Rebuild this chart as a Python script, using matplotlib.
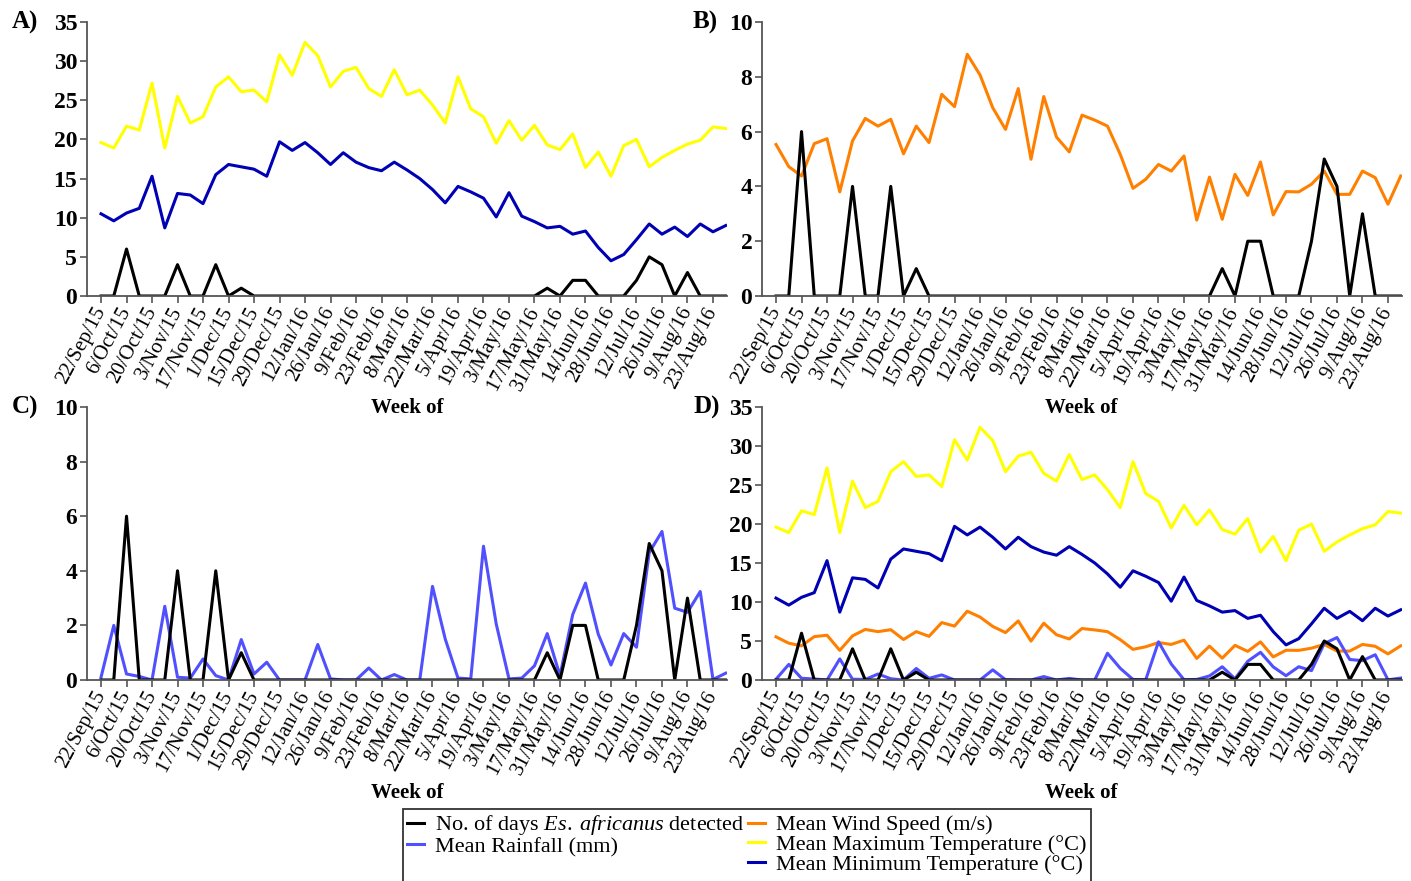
import matplotlib
matplotlib.use('Agg')
import matplotlib.pyplot as plt
from matplotlib.lines import Line2D

plt.rcParams['font.family'] = ['Liberation Serif', 'DejaVu Serif']
plt.rcParams['mathtext.fontset'] = 'custom'
plt.rcParams['mathtext.it'] = 'Liberation Serif:italic'
plt.rcParams['mathtext.rm'] = 'Liberation Serif'

# weekly data, 22/Sep/15 .. 30/Aug/16
days_detected = [0, 0, 6, 0, 0, 0, 4, 0, 0, 4, 0, 1, 0, 0, 0, 0, 0, 0, 0, 0,
                 0, 0, 0, 0, 0, 0, 0, 0, 0, 0, 0, 0, 0, 0, 0, 1, 0, 2, 2, 0,
                 0, 0, 2, 5, 4, 0, 3, 0, 0, 0]
rainfall = [0.1, 2.0, 0.22, 0.13, 0.0, 2.7, 0.1, 0.07, 0.77, 0.16,
            0.0, 1.48, 0.22, 0.65, 0.0, 0.0, 0.0, 1.3, 0.04, 0.0,
            0.0, 0.44, 0.0, 0.2, 0.0, 0.0, 3.43, 1.5, 0.07, 0.04,
            4.9, 2.05, 0.04, 0.07, 0.52, 1.7, 0.16, 2.4, 3.55, 1.68,
            0.55, 1.7, 1.2, 4.67, 5.44, 2.63, 2.48, 3.24, 0.02, 0.25]
wind = [5.53, 4.72, 4.38, 5.56, 5.74, 3.80, 5.66, 6.48, 6.2, 6.45,
        5.19, 6.2, 5.6, 7.36, 6.91, 8.82, 8.07, 6.87, 6.08, 7.57,
        4.99, 7.28, 5.8, 5.26, 6.6, 6.42, 6.2, 5.17, 3.93, 4.26,
        4.8, 4.56, 5.11, 2.77, 4.34, 2.8, 4.44, 3.67, 4.89, 2.96,
        3.81, 3.8, 4.08, 4.56, 3.71, 3.71, 4.56, 4.32, 3.35, 4.38]
tmax = [19.6, 18.9, 21.7, 21.2, 27.2, 18.9, 25.5, 22.1, 22.9, 26.7,
        28.0, 26.1, 26.3, 24.8, 30.8, 28.2, 32.4, 30.7, 26.7, 28.7,
        29.2, 26.5, 25.5, 28.9, 25.7, 26.3, 24.4, 22.1, 28.0, 23.9,
        22.9, 19.5, 22.4, 19.9, 21.8, 19.3, 18.7, 20.7, 16.4, 18.4,
        15.3, 19.2, 20.0, 16.5, 17.7, 18.6, 19.4, 19.9, 21.6, 21.4]
tmin = [10.5, 9.6, 10.6, 11.2, 15.3, 8.7, 13.1, 12.9, 11.8, 15.5,
        16.8, 16.5, 16.2, 15.3, 19.7, 18.6, 19.6, 18.3, 16.8, 18.3,
        17.1, 16.4, 16.0, 17.1, 16.1, 15.0, 13.6, 11.9, 14.0, 13.3,
        12.5, 10.1, 13.2, 10.2, 9.5, 8.7, 8.9, 7.9, 8.3, 6.2,
        4.5, 5.3, 7.2, 9.2, 7.9, 8.8, 7.6, 9.2, 8.2, 9.0]
tick_labels = ['22/Sep/15', '6/Oct/15', '20/Oct/15', '3/Nov/15', '17/Nov/15',
               '1/Dec/15', '15/Dec/15', '29/Dec/15', '12/Jan/16', '26/Jan/16',
               '9/Feb/16', '23/Feb/16', '8/Mar/16', '22/Mar/16', '5/Apr/16',
               '19/Apr/16', '3/May/16', '17/May/16', '31/May/16', '14/Jun/16',
               '28/Jun/16', '12/Jul/16', '26/Jul/16', '9/Aug/16', '23/Aug/16']

C_DET = 'black'
C_RAIN = '#5050ff'
C_WIND = '#ff8000'
C_TMAX = '#ffff00'
C_TMIN = '#0000b4'
LW = 2.2

W, H = 1411, 881
fig = plt.figure(figsize=(W / 100, H / 100), dpi=100)

def make_ax(left, top, right, bottom, ymax, ystep):
    ax = fig.add_axes([left / W, 1 - bottom / H, (right - left) / W, (bottom - top) / H])
    ax.set_xlim(-1.1, 49.1)
    ax.set_ylim(0, ymax)
    for s in ['top', 'right']:
        ax.spines[s].set_visible(False)
    for s in ['left', 'bottom']:
        ax.spines[s].set_color('#555555')
        ax.spines[s].set_linewidth(1.3)
    ax.set_yticks(range(0, ymax + 1, ystep))
    ax.set_xticks(range(0, 2 * len(tick_labels), 2))
    ax.set_xticklabels(tick_labels, rotation=62, ha='right', va='center',
                       rotation_mode='anchor', fontsize=15)
    ax.tick_params(axis='both', direction='out', length=5, width=1.2, color='#555555')
    ax.tick_params(axis='y', labelsize=17, pad=2)
    ax.tick_params(axis='x', pad=4)
    for lab in ax.get_yticklabels():
        lab.set_fontweight('bold')
    return ax

x = list(range(len(days_detected)))

axA = make_ax(87, 22, 727, 296, 35, 5)
axA.plot(x, tmax, color=C_TMAX, lw=LW)
axA.plot(x, tmin, color=C_TMIN, lw=LW)
axA.plot(x, days_detected, color=C_DET, lw=LW)

axB = make_ax(762, 22, 1402, 296, 10, 2)
axB.plot(x, wind, color=C_WIND, lw=LW)
axB.plot(x, days_detected, color=C_DET, lw=LW)

axC = make_ax(87, 407, 727, 680, 10, 2)
axC.plot(x, rainfall, color=C_RAIN, lw=LW)
axC.plot(x, days_detected, color=C_DET, lw=LW)

axD = make_ax(762, 407, 1402, 680, 35, 5)
axD.plot(x, tmax, color=C_TMAX, lw=LW)
axD.plot(x, tmin, color=C_TMIN, lw=LW)
axD.plot(x, wind, color=C_WIND, lw=LW)
axD.plot(x, rainfall, color=C_RAIN, lw=LW)
axD.plot(x, days_detected, color=C_DET, lw=LW)

# panel letters and axis titles
for lab, px, py in [('A)', 12, 22), ('B)', 693, 22), ('C)', 12, 407), ('D)', 693, 407)]:
    fig.text(px / W, 1 - py / H, lab, ha='left', va='center', fontsize=18, fontweight='bold')
for px, py in [(407, 408), (1081, 408), (407, 793), (1081, 793)]:
    fig.text(px / W, 1 - py / H, 'Week of', ha='center', va='center', fontsize=15, fontweight='bold')

blank = Line2D([], [], color='none', lw=0)
handles = [Line2D([], [], color=C_DET, lw=LW),
           Line2D([], [], color=C_RAIN, lw=LW),
           blank, blank,
           Line2D([], [], color=C_WIND, lw=LW),
           Line2D([], [], color=C_TMAX, lw=LW),
           Line2D([], [], color=C_TMIN, lw=LW),
           blank]
labels = [r'No. of days $\it{Es.}\;\it{africanus}$ detected',
          'Mean Rainfall (mm)', ' ', ' ',
          'Mean Wind Speed (m/s)',
          'Mean Maximum Temperature (°C)',
          'Mean Minimum Temperature (°C)', ' ']
leg = fig.legend(handles, labels, loc='upper left', bbox_to_anchor=(403 / W, 1 - 809 / H),
                 ncol=2, fontsize=16, frameon=True, fancybox=False, edgecolor='black',
                 handlelength=0.75, handletextpad=0.5, columnspacing=0.15,
                 labelspacing=-0.04, borderpad=0.2, borderaxespad=0)
leg.get_frame().set_linewidth(1.3)

fig.savefig('out.png', dpi=100)
